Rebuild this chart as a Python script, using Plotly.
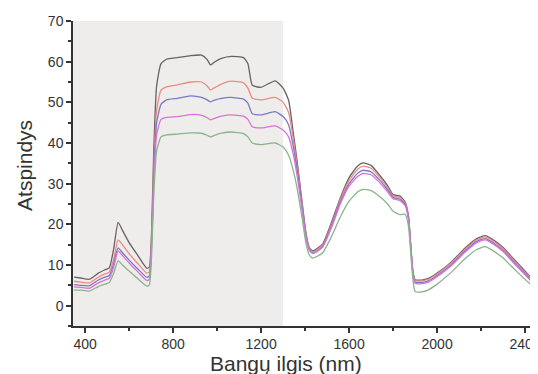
import plotly.graph_objects as go

wavelength = [350, 380, 420, 460, 490, 510, 530, 550, 570, 600, 640, 680, 692, 702, 712, 725, 745, 770,
              820, 880, 930, 955, 970, 985, 1020, 1064, 1120, 1140, 1160, 1200, 1264, 1300, 1325, 1345,
              1365, 1385, 1405, 1420, 1436, 1480, 1520, 1560, 1600, 1640, 1664, 1700, 1740, 1775, 1800,
              1830, 1855, 1870, 1880, 1890, 1900, 1930, 1960, 2000, 2060, 2130, 2180, 2218, 2260, 2300,
              2360, 2420, 2460, 2500]

s_black = [7.0, 6.8, 6.5, 8.0, 8.8, 9.3, 14.0, 20.5, 18.5, 15.5, 12.3, 9.2, 9.5, 18, 38, 54, 59.5, 60.6,
           61.0, 61.5, 61.6, 60.5, 59.2, 59.8, 60.8, 61.3, 61.0, 59.5, 54.2, 53.7, 55.3, 53.5, 50.5, 43,
           35, 26, 17.5, 14.2, 13.5, 15.2, 20.5, 26.5, 31.5, 34.4, 35.1, 34.5, 32.0, 29.5, 27.3,
           27.0, 25.5, 22, 15, 8.5, 6.4, 6.3, 6.7, 8.0, 10.5, 14.3, 16.5, 17.2, 16.0, 14.3,
           10.8, 7.3, 5.0, 3.6]
s_red = [6.0, 5.8, 5.6, 7.0, 7.8, 8.2, 11.5, 16.2, 15.0, 12.8, 10.3, 8.0, 8.3, 16, 34, 48, 53, 53.8,
         54.3, 55.0, 55.0, 54.0, 53.0, 53.5, 54.5, 55.2, 54.8, 53.5, 51.0, 50.6, 51.2, 50.0, 47.5, 41.5,
         34, 25.5, 17.2, 14.0, 13.2, 14.9, 20, 26, 30.8, 33.6, 34.3, 33.8, 31.5, 29, 27,
         26.6, 25.2, 21.8, 15, 8.3, 6.2, 6.1, 6.5, 7.8, 10.3, 14, 16.2, 16.9, 15.7, 14.0,
         10.5, 7.1, 4.8, 3.4]
s_blue = [5.2, 5.0, 4.9, 6.3, 7.0, 7.4, 10.3, 14.2, 13.0, 11.2, 9.0, 7.0, 7.3, 15, 32, 45, 49.5, 50.6,
          51.0, 51.6, 51.2, 50.6, 50.1, 50.5, 51.0, 51.2, 50.8, 49.8, 47.2, 46.9, 47.7, 46.5, 44.5, 39.5,
          33, 25, 17, 13.7, 12.9, 14.6, 19.6, 25.4, 30.0, 32.6, 33.3, 32.9, 30.8, 28.5, 26.6,
          26.2, 24.9, 21.5, 14.8, 8.0, 5.8, 5.7, 6.1, 7.4, 9.9, 13.6, 15.8, 16.5, 15.3, 13.6,
          10.1, 6.8, 4.5, 3.2]
s_magenta = [4.6, 4.5, 4.3, 5.6, 6.3, 6.7, 9.5, 13.5, 12.3, 10.5, 8.3, 6.2, 6.5, 14, 30, 42, 45.8, 46.3,
             46.5, 47.0, 46.8, 46.2, 45.7, 46.0, 46.6, 46.9, 46.6, 45.8, 44.0, 43.7, 44.2, 43.2, 41.5, 37.5,
             31.5, 24, 16.5, 13.5, 12.8, 14.4, 19.2, 25, 29.4, 31.8, 32.5, 32.2, 30.2, 28, 26.3,
             25.9, 24.6, 21.2, 14.5, 7.8, 5.5, 5.4, 5.8, 7.1, 9.6, 13.3, 15.5, 16.2, 15.0, 13.3,
             9.8, 6.5, 4.3, 3.0]
s_green = [3.9, 3.8, 3.6, 4.7, 5.3, 5.7, 8.0, 11.0, 10.0, 8.5, 6.6, 4.8, 5.1, 12, 27, 38, 41.5, 42.0,
           42.2, 42.5, 42.4, 41.9, 41.5, 41.8, 42.4, 42.7, 42.3, 41.5, 40.0, 39.6, 40.0, 39.0, 37.0, 33.5,
           28.5, 22, 15, 12.4, 11.7, 13.0, 17.0, 21.8, 25.7, 28.0, 28.6, 28.3, 26.8, 25.0, 23.2,
           22.4, 22.5, 19.5, 13.0, 6.5, 3.5, 3.4, 3.9, 5.3, 8.0, 11.7, 13.8, 14.5, 13.3, 11.7,
           8.5, 5.5, 3.7, 2.6]

series = [("s1", s_black, "#6a6066"), ("s2", s_red, "#ec8a80"), ("s3", s_blue, "#7a78c8"),
          ("s4", s_magenta, "#d872d8"), ("s5", s_green, "#8ab48a")]

x_ticks = [400, 800, 1200, 1600, 2000, 2400]
y_ticks = [0, 10, 20, 30, 40, 50, 60, 70]
shade_end = 1300
x_title = "Bangų ilgis (nm)"
y_title = "Atspindys"

fig = go.Figure()
for name, vals, col in series:
    fig.add_trace(go.Scatter(x=wavelength, y=vals, mode="lines", name=name,
                             line=dict(color=col, width=1.3, shape="spline", smoothing=0.5)))

fig.add_shape(type="rect", xref="x", yref="y", x0=345, x1=shade_end, y0=-5, y1=70,
              fillcolor="#efedeb", line=dict(width=0), layer="below")

axis_common = dict(showgrid=False, zeroline=False, showline=True, linecolor="#333", linewidth=1.5,
                   ticks="outside", ticklen=5, tickwidth=1.5, tickcolor="#333",
                   tickfont=dict(family="Liberation Sans, Arial", size=14, color="#333"))

fig.add_annotation(text=x_title, xref="paper", yref="paper", x=0.45, y=0, xanchor="center",
                   yanchor="middle", yshift=-37, showarrow=False, borderpad=0,
                   font=dict(family="Liberation Sans, Arial", size=21, color="#333"))
fig.add_annotation(text=y_title, xref="paper", yref="paper", x=-0.1015, y=0.528, xanchor="center",
                   yanchor="middle", textangle=-90, showarrow=False,
                   font=dict(family="Liberation Sans, Arial", size=21, color="#333"))

fig.update_layout(
    width=538, height=374, margin=dict(l=65, r=0, t=13, b=56),
    paper_bgcolor="white", plot_bgcolor="white", showlegend=False,
    xaxis=dict(range=[345, 2495], tickvals=x_ticks, ticktext=[str(v) for v in x_ticks],
               ticklabeloverflow="allow", ticklabelstandoff=-1,
               minor=dict(tickvals=[600, 1000, 1400, 1800, 2200], ticks="outside", ticklen=3,
                          tickcolor="#333", tickwidth=1.5),
               **axis_common),
    yaxis=dict(range=[-5, 70], tickvals=y_ticks, ticktext=[str(v) for v in y_ticks],
               minor=dict(tickvals=[-5, 5, 15, 25, 35, 45, 55, 65], ticks="outside", ticklen=3,
                          tickcolor="#333", tickwidth=1.5),
               **axis_common),
)

fig.write_html("out.html")
